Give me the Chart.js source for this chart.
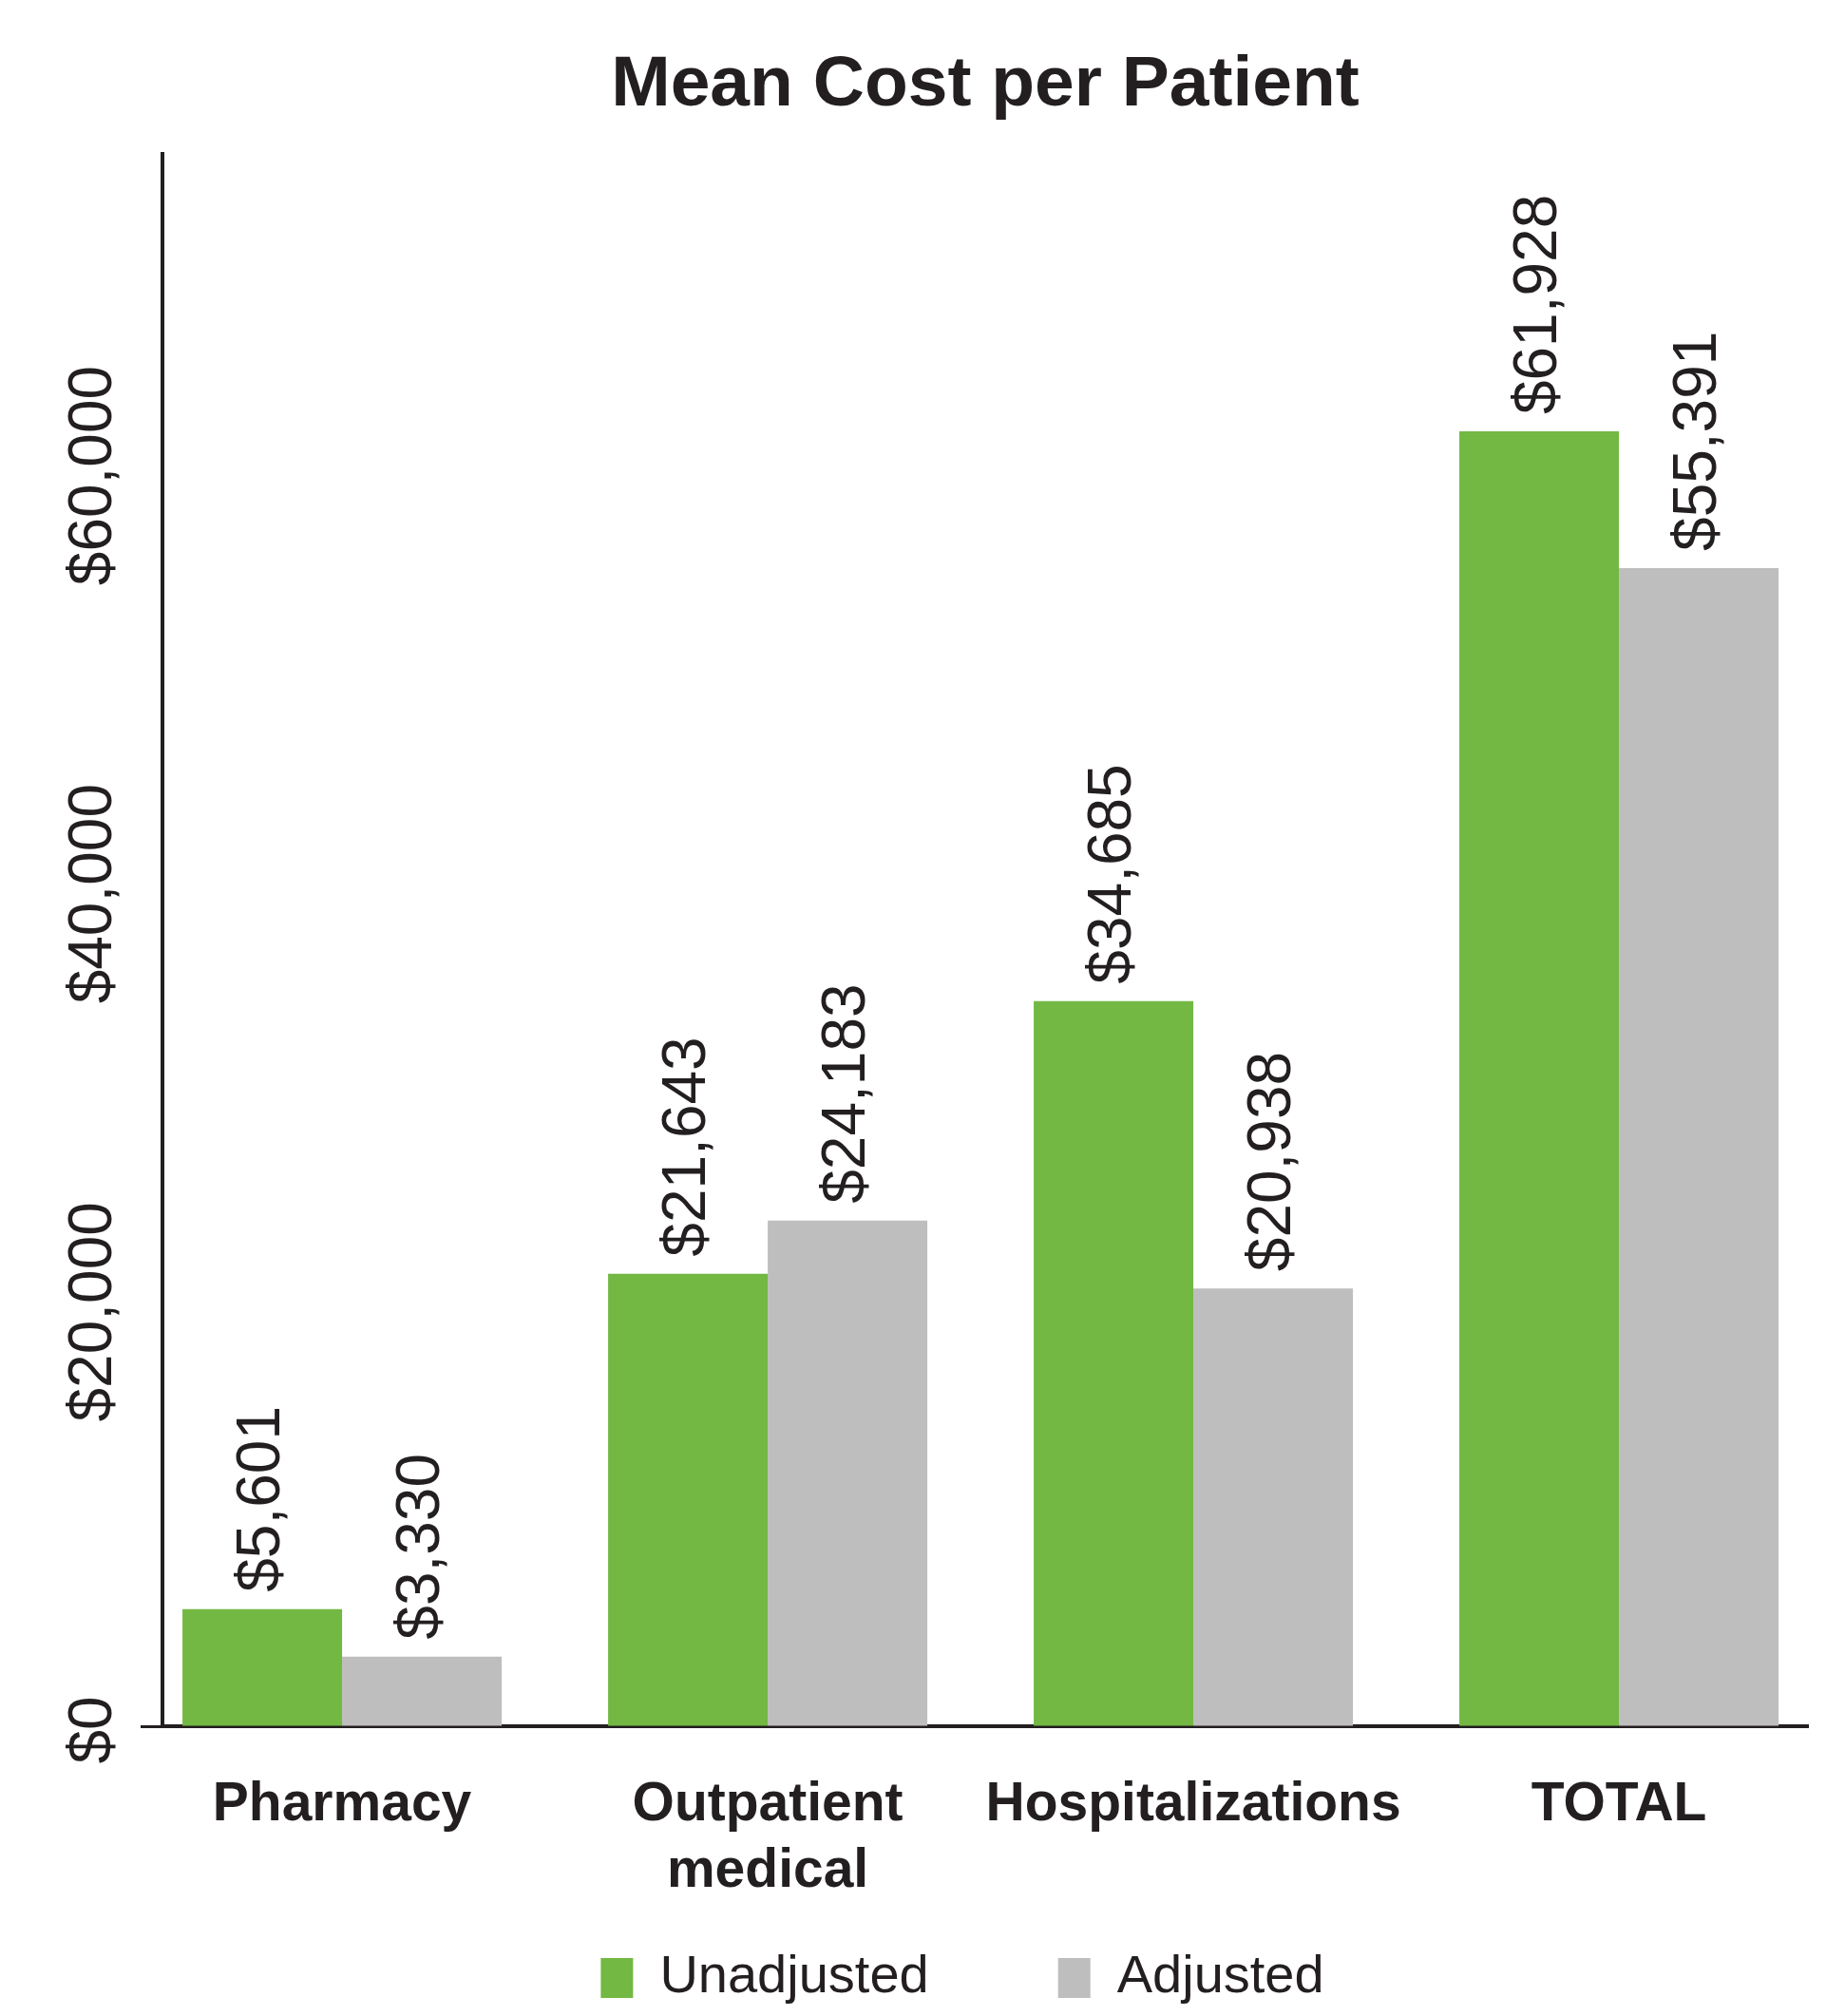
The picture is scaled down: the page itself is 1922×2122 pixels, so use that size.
<!DOCTYPE html>
<html>
<head>
<meta charset="utf-8">
<title>Mean Cost per Patient</title>
<script src="https://cdn.jsdelivr.net/npm/chart.js@4.4.1/dist/chart.umd.min.js"></script>
<style>
    html, body { margin: 0; padding: 0; background: #fff; }
    canvas { display: block; }
</style>
</head>
<body>
<canvas id="costChart" width="1922" height="2122"></canvas>
<script>
// --- DATA ---
const categories = ['Pharmacy', ['Outpatient', 'medical'], 'Hospitalizations', 'TOTAL'];
const seriesNames = ['Unadjusted', 'Adjusted'];
const unadjusted = [5601, 21643, 34685, 61928];
const adjusted = [3330, 24183, 20938, 55391];
const yTicks = [0, 20000, 40000, 60000];

const INK = '#231f20';
const GREEN = '#72b843';
const GREY = '#bebebe';
const FONT = "'Liberation Sans', Arial, Helvetica, sans-serif";

function money(v) {
    return '$' + v.toLocaleString('en-US');
}

// value labels + y labels are printed sideways in the original,
// category names sit under the axis (two lines for "Outpatient medical")
const extraLabels = {
    id: 'extraLabels',
    afterDatasetsDraw(chart) {
        const ctx = chart.ctx;
        ctx.save();
        ctx.fillStyle = INK;
        ctx.font = '64px ' + FONT;

        chart.data.datasets.forEach((ds, di) => {
            const meta = chart.getDatasetMeta(di);
            meta.data.forEach((bar, i) => {
                ctx.save();
                ctx.translate(bar.x, bar.y - 18);
                ctx.rotate(-Math.PI / 2);
                ctx.textAlign = 'left';
                ctx.textBaseline = 'middle';
                ctx.fillText(money(ds.data[i].y), 0, 0);
                ctx.restore();
            });
        });

        const yScale = chart.scales.y;
        yTicks.forEach(v => {
            ctx.save();
            ctx.translate(chart.chartArea.left - 54, yScale.getPixelForValue(v) + 4);
            ctx.rotate(-Math.PI / 2);
            ctx.textAlign = 'center';
            ctx.textBaseline = 'alphabetic';
            ctx.fillText(money(v), 0, 0);
            ctx.restore();
        });

        const xScale = chart.scales.x;
        ctx.font = 'bold 57px ' + FONT;
        ctx.textAlign = 'center';
        ctx.textBaseline = 'middle';
        categories.forEach((cat, i) => {
            const lines = Array.isArray(cat) ? cat : [cat];
            const x = xScale.getPixelForValue(i);
            lines.forEach((line, li) => {
                ctx.fillText(line, x, xScale.top + 83 + li * 70);
            });
        });
        ctx.restore();
    }
};

new Chart(document.getElementById('costChart'), {
    type: 'bar',
    data: {
        datasets: [
            { label: seriesNames[0], data: unadjusted.map((v, i) => ({ x: i, y: v })), backgroundColor: GREEN },
            { label: seriesNames[1], data: adjusted.map((v, i) => ({ x: i, y: v })), backgroundColor: GREY }
        ]
    },
    options: {
        responsive: false,
        animation: false,
        layout: { padding: { left: 123, right: 19, top: 0, bottom: 2 } },
        datasets: { bar: { categoryPercentage: 0.75, barPercentage: 1.0 } },
        plugins: {
            title: {
                display: true,
                text: 'Mean Cost per Patient',
                color: INK,
                fullSize: false,
                font: { family: FONT, size: 75, weight: 'bold' },
                padding: { top: 45, bottom: 27 }
            },
            legend: {
                position: 'bottom',
                labels: {
                    color: INK,
                    boxWidth: 34,
                    boxHeight: 42,
                    padding: 136,
                    font: { family: FONT, size: 56 }
                }
            },
            tooltip: { enabled: false }
        },
        scales: {
            x: {
                type: 'linear',
                offset: false,
                min: -0.422,
                max: 3.444,
                grid: { display: false },
                border: { display: true, color: INK, width: 4 },
                ticks: { display: false, stepSize: 1, includeBounds: false },
                afterBuildTicks: s => { s.ticks = s.ticks.filter(t => Number.isInteger(t.value)); },
                afterFit: s => { s.height = 101; }
            },
            y: {
                min: 0,
                max: 75200,
                grid: { drawOnChartArea: false, drawTicks: true, tickLength: 23, tickWidth: 3, color: INK },
                border: { display: true, color: INK, width: 4 },
                ticks: { display: false, stepSize: 20000, includeBounds: false },
                afterBuildTicks: s => { s.ticks = s.ticks.filter(t => yTicks.includes(t.value)); },
                afterFit: s => { s.width = 48; }
            }
        }
    },
    plugins: [extraLabels]
});
</script>
</body>
</html>
